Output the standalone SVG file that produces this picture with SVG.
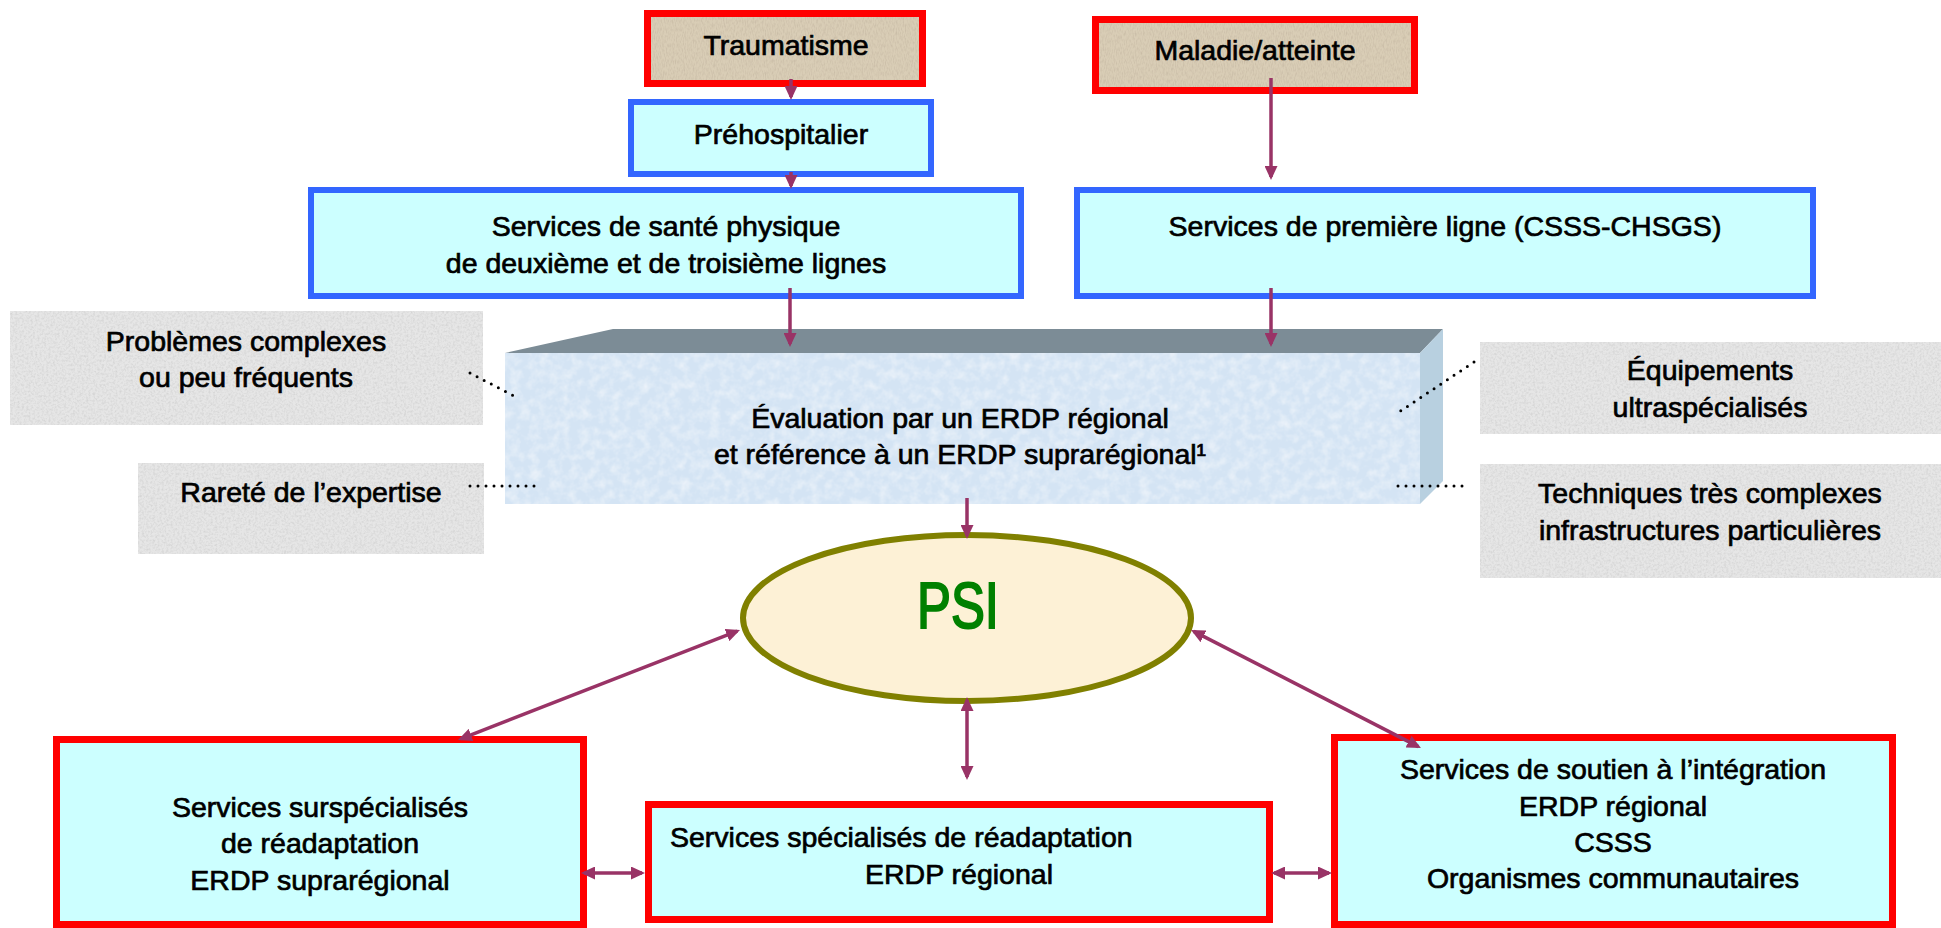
<svg xmlns="http://www.w3.org/2000/svg" width="1941" height="928" viewBox="0 0 1941 928">
<style>
text{font-family:"Liberation Sans",Arial,sans-serif;font-size:28.5px;fill:#000;stroke:#000;stroke-width:0.7px}
.c{text-anchor:middle}
.burl{fill:#D9CDB6}
.redo{fill:none;stroke:#FF0000;stroke-width:7}
.redb{fill:#CCFFFF;stroke:#FF0000;stroke-width:7}
.blue{fill:#CCFFFF;stroke:#3366FF;stroke-width:6}
.gray{fill:#E6E6E6}
.con{stroke:#993366;stroke-width:3.5;fill:none}
.dot{stroke:#000;stroke-width:3;stroke-linecap:round;stroke-dasharray:0 8;fill:none}
</style>
<defs>
<marker id="ah" viewBox="0 0 14 13" refX="11" refY="6.5" markerWidth="14" markerHeight="13" markerUnits="userSpaceOnUse" orient="auto-start-reverse">
<path d="M0,0 L14,6.5 L0,13 z" fill="#993366"/>
</marker>
<filter id="grain" x="0" y="0" width="1" height="1">
<feTurbulence type="fractalNoise" baseFrequency="0.45" numOctaves="3" seed="4" result="n"/>
<feColorMatrix in="n" type="matrix" values="0 0 0 0 0.6  0 0 0 0 0.6  0 0 0 0 0.6  1.4 0 0 0 -0.55" result="g"/>
<feComposite in="g" in2="SourceGraphic" operator="in" result="gi"/>
<feMerge><feMergeNode in="SourceGraphic"/><feMergeNode in="gi"/></feMerge>
</filter>
<filter id="burlap" x="0" y="0" width="1" height="1">
<feTurbulence type="fractalNoise" baseFrequency="0.9 0.25" numOctaves="2" seed="7" result="n"/>
<feColorMatrix in="n" type="matrix" values="0 0 0 0 0.55  0 0 0 0 0.47  0 0 0 0 0.36  1.5 0 0 0 -0.6" result="g"/>
<feComposite in="g" in2="SourceGraphic" operator="in" result="gi"/>
<feMerge><feMergeNode in="SourceGraphic"/><feMergeNode in="gi"/></feMerge>
</filter>
<filter id="frost" x="0" y="0" width="1" height="1">
<feTurbulence type="fractalNoise" baseFrequency="0.1" numOctaves="3" seed="2" result="n"/>
<feColorMatrix in="n" type="matrix" values="0 0 0 0 1  0 0 0 0 1  0 0 0 0 1  0.9 0 0 0 -0.35" result="g"/>
<feComposite in="g" in2="SourceGraphic" operator="in" result="gi"/>
<feMerge><feMergeNode in="SourceGraphic"/><feMergeNode in="gi"/></feMerge>
</filter>
</defs>
<rect width="1941" height="928" fill="#FFFFFF"/>

<g id="traumatisme">
<rect x="647.5" y="13.5" width="275" height="70" class="burl" filter="url(#burlap)"/>
<rect x="647.5" y="13.5" width="275" height="70" class="redo"/>
<text x="786" y="55" class="c">Traumatisme</text>
</g>
<g id="maladie">
<rect x="1095.5" y="19.5" width="319" height="71" class="burl" filter="url(#burlap)"/>
<rect x="1095.5" y="19.5" width="319" height="71" class="redo"/>
<text x="1255" y="60" class="c">Maladie/atteinte</text>
</g>
<g id="prehospitalier">
<rect x="631" y="102" width="300" height="72" class="blue"/>
<text x="781" y="144" class="c">Préhospitalier</text>
</g>
<g id="sante-physique">
<rect x="311" y="190" width="710" height="106" class="blue"/>
<text x="666" y="236" class="c">Services de santé physique</text>
<text x="666" y="273" class="c">de deuxième et de troisième lignes</text>
</g>
<g id="premiere-ligne">
<rect x="1077" y="190" width="736" height="106" class="blue"/>
<text x="1445" y="236" class="c">Services de première ligne (CSSS-CHSGS)</text>
</g>

<g id="problemes-complexes">
<rect x="10" y="311" width="473" height="114" class="gray" filter="url(#grain)"/>
<text x="246" y="351" class="c">Problèmes complexes</text>
<text x="246" y="387" class="c">ou peu fréquents</text>
</g>
<g id="rarete">
<rect x="138" y="463" width="346" height="91" class="gray" filter="url(#grain)"/>
<text x="311" y="502" class="c">Rareté de l’expertise</text>
</g>
<g id="equipements">
<rect x="1480" y="342" width="461" height="92" class="gray" filter="url(#grain)"/>
<text x="1710" y="380" class="c">Équipements</text>
<text x="1710" y="417" class="c">ultraspécialisés</text>
</g>
<g id="techniques">
<rect x="1480" y="464" width="461" height="114" class="gray" filter="url(#grain)"/>
<text x="1710" y="503" class="c">Techniques très complexes</text>
<text x="1710" y="540" class="c">infrastructures particulières</text>
</g>

<g id="evaluation">
<polygon points="505,353 613,329 1443,329 1420,353" fill="#7C8C96"/>
<polygon points="1420,353 1443,329 1443,481 1420,504" fill="#B8D0E0"/>
<rect x="505" y="353" width="915" height="151" fill="#D4E4F4" filter="url(#frost)"/>
<text x="960" y="428" class="c">Évaluation par un ERDP régional</text>
<text x="960" y="464" class="c">et référence à un ERDP suprarégional¹</text>
</g>

<g id="psi">
<ellipse cx="967" cy="618" rx="224" ry="83" fill="#FDF1D6" stroke="#808000" stroke-width="6"/>
<text x="958" y="628" class="c" style="font-size:64px;fill:#008000;stroke:#008000;stroke-width:2px" textLength="82" lengthAdjust="spacingAndGlyphs">PSI</text>
</g>

<g id="surspecialises">
<rect x="56.5" y="739.5" width="527" height="185" class="redb"/>
<text x="320" y="817" class="c">Services surspécialisés</text>
<text x="320" y="853" class="c">de réadaptation</text>
<text x="320" y="890" class="c">ERDP suprarégional</text>
</g>
<g id="specialises">
<rect x="648.5" y="804.5" width="621" height="115" class="redb"/>
<text x="670" y="847">Services spécialisés de réadaptation</text>
<text x="959" y="884" class="c">ERDP régional</text>
</g>
<g id="soutien">
<rect x="1334.5" y="737.5" width="558" height="187" class="redb"/>
<text x="1613" y="779" class="c">Services de soutien à l’intégration</text>
<text x="1613" y="816" class="c">ERDP régional</text>
<text x="1613" y="852" class="c">CSSS</text>
<text x="1613" y="888" class="c">Organismes communautaires</text>
</g>

<g id="connectors">
<line class="con" x1="791" y1="79" x2="791" y2="97" marker-end="url(#ah)"/>
<line class="con" x1="791" y1="172" x2="791" y2="186" marker-end="url(#ah)"/>
<line class="con" x1="1271" y1="78" x2="1271" y2="177" marker-end="url(#ah)"/>
<line class="con" x1="790" y1="288" x2="790" y2="344" marker-end="url(#ah)"/>
<line class="con" x1="1271" y1="288" x2="1271" y2="344" marker-end="url(#ah)"/>
<line class="con" x1="967" y1="498" x2="967" y2="536" marker-end="url(#ah)"/>
<line class="con" x1="967" y1="700" x2="967" y2="777" marker-start="url(#ah)" marker-end="url(#ah)"/>
<line class="con" x1="737.2" y1="631.1" x2="460.8" y2="738.9" marker-start="url(#ah)" marker-end="url(#ah)"/>
<line class="con" x1="1193.7" y1="631.4" x2="1418.3" y2="746.6" marker-start="url(#ah)" marker-end="url(#ah)"/>
<line class="con" x1="584" y1="873" x2="642" y2="873" marker-start="url(#ah)" marker-end="url(#ah)"/>
<line class="con" x1="1274" y1="873" x2="1329" y2="873" marker-start="url(#ah)" marker-end="url(#ah)"/>
<line class="dot" x1="470" y1="373" x2="514" y2="396"/>
<line class="dot" x1="470" y1="486" x2="537" y2="486"/>
<line class="dot" x1="1474" y1="362" x2="1399" y2="412"/>
<line class="dot" x1="1398" y1="486" x2="1470" y2="486"/>
</g>
</svg>
